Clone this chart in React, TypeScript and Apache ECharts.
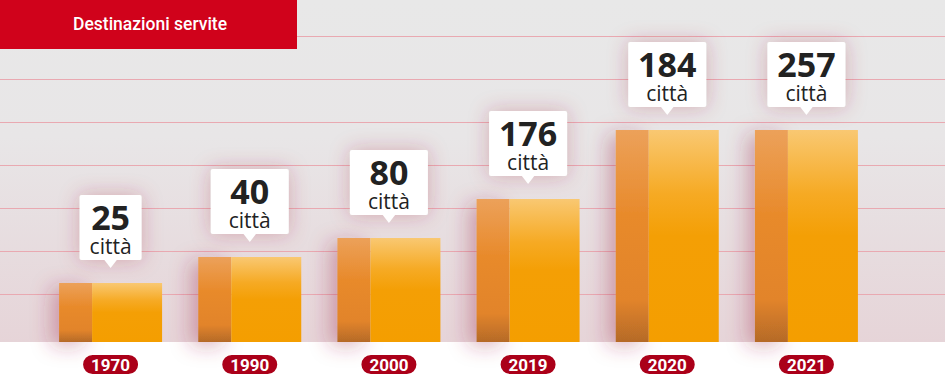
import React, { useEffect, useRef } from "react";
import * as echarts from "echarts";

const years = ["1970", "1990", "2000", "2019", "2020", "2021"];
const cityCounts = [25, 40, 80, 176, 184, 257];
// bar heights as drawn in the picture (visual units, not proportional to the counts)
const barHeights = [59, 85, 104, 143, 212, 212];
const gridLevels = [0, 1, 2, 3, 4, 5, 6];
const titleText = "Destinazioni servite";
const unitText = "città";

export default function App() {
  const ref = useRef<HTMLDivElement>(null);
  useEffect(() => {
    document.body.style.margin = "0";
    const chart = echarts.init(ref.current!, null, { renderer: "svg" });
    const option: any = {
      animation: false,
      backgroundColor: "#ffffff",
      graphic: [
        {
          type: "rect",
          z: -10,
          silent: true,
          shape: { x: 0, y: 0, width: 945, height: 342 },
          style: {
            fill: new echarts.graphic.LinearGradient(0, 0, 0, 1, [
              { offset: 0, color: "#e8e8e8" },
              { offset: 0.4, color: "#e8e6e7" },
              { offset: 1, color: "#e6d4d8" },
            ]),
          },
        },
        {
          type: "rect",
          z: 10,
          shape: { x: 0, y: 0, width: 297, height: 49 },
          style: { fill: "#d0021b" },
        },
        {
          type: "text",
          z: 11,
          x: 73,
          y: 24,
          style: {
            text: titleText,
            fill: "#ffffff",
            font: "500 17.5px 'Roboto', sans-serif",
            textAlign: "left",
            textVerticalAlign: "middle",
          },
        },
      ],
      grid: [
        { left: 0, right: 0, top: 36, bottom: 83 },
        { left: 41, right: 69, top: 0, bottom: 35 },
      ],
      xAxis: [
        { gridIndex: 0, type: "value", min: 0, max: 1, show: false },
        {
          gridIndex: 1,
          type: "category",
          data: years,
          axisLine: { show: false },
          axisTick: { show: false },
          axisLabel: {
            margin: 13,
            color: "#ffffff",
            fontFamily: "Roboto, sans-serif",
            fontWeight: "bold",
            fontSize: 17,
            lineHeight: 17,
            backgroundColor: "#ab0019",
            borderRadius: 10,
            padding: [1, 8, 1, 8],
          },
        },
      ],
      yAxis: [
        {
          gridIndex: 0,
          type: "value",
          min: gridLevels[0],
          max: gridLevels[gridLevels.length - 1],
          interval: 1,
          axisLine: { show: false },
          axisTick: { show: false },
          axisLabel: { show: false },
          splitLine: { show: true, lineStyle: { color: "#e9a9b1", width: 1 } },
        },
        {
          gridIndex: 1,
          type: "value",
          min: 0,
          max: 342,
          axisLine: { show: false },
          axisTick: { show: false },
          axisLabel: { show: false },
          splitLine: { show: false },
        },
      ],
      series: [
        {
          type: "bar",
          xAxisIndex: 1,
          yAxisIndex: 1,
          barWidth: 33,
          barGap: "0%",
          data: barHeights,
          itemStyle: {
            color: new echarts.graphic.LinearGradient(0, 0, 0, 1, [
              { offset: 0, color: "#eca15a" },
              { offset: 0.4, color: "#e88a2b" },
              { offset: 0.8, color: "#e2842a" },
              { offset: 1, color: "#b56a28" },
            ]),
            shadowBlur: 20,
            shadowColor: "rgba(160,40,70,0.35)",
            shadowOffsetX: -8,
            shadowOffsetY: 4,
          },
        },
        {
          type: "bar",
          xAxisIndex: 1,
          yAxisIndex: 1,
          barWidth: 70,
          barGap: "0%",
          data: barHeights,
          itemStyle: {
            color: new echarts.graphic.LinearGradient(0, 0, 0, 1, [
              { offset: 0, color: "#f9c872" },
              { offset: 0.3, color: "#f6aa24" },
              { offset: 0.5, color: "#f49f05" },
              { offset: 1, color: "#f49e00" },
            ]),
          },
        },
        {
          type: "custom",
          xAxisIndex: 1,
          yAxisIndex: 1,
          z: 5,
          data: barHeights.map((h, i) => [i, h, cityCounts[i]]),
          renderItem: (params: any, api: any) => {
            const idx = api.value(0);
            const p = api.coord([idx, api.value(1)]);
            const cx = p[0];
            const tipY = p[1] - 15;
            const boxBottom = p[1] - 23;
            const boxH = 65;
            const boxTop = boxBottom - boxH;
            const w = params.dataIndex === 0 ? 62 : 78;
            const shadow = { shadowBlur: 20, shadowColor: "rgba(170,40,70,0.32)" };
            return {
              type: "group",
              children: [
                {
                  type: "rect",
                  shape: { x: cx - w / 2, y: boxTop, width: w, height: boxH, r: 2 },
                  style: { fill: "#ffffff", ...shadow },
                },
                {
                  type: "polygon",
                  shape: {
                    points: [
                      [cx - 7, boxBottom - 1],
                      [cx + 7, boxBottom - 1],
                      [cx, tipY],
                    ],
                  },
                  style: { fill: "#ffffff" },
                },
                {
                  type: "text",
                  x: cx,
                  y: boxTop + 22,
                  style: {
                    text: String(api.value(2)),
                    fill: "#222222",
                    font: "bold 34px 'Open Sans', sans-serif",
                    lineHeight: 28,
                    textAlign: "center",
                    textVerticalAlign: "middle",
                  },
                },
                {
                  type: "text",
                  x: cx,
                  y: boxTop + 51,
                  style: {
                    text: unitText,
                    fill: "#222222",
                    font: "21px 'Open Sans', sans-serif",
                    lineHeight: 20,
                    textAlign: "center",
                    textVerticalAlign: "middle",
                  },
                },
              ],
            };
          },
        },
      ],
    };
    chart.setOption(option);
    return () => chart.dispose();
  }, []);
  return <div ref={ref} style={{ width: 945, height: 377 }} />;
}
